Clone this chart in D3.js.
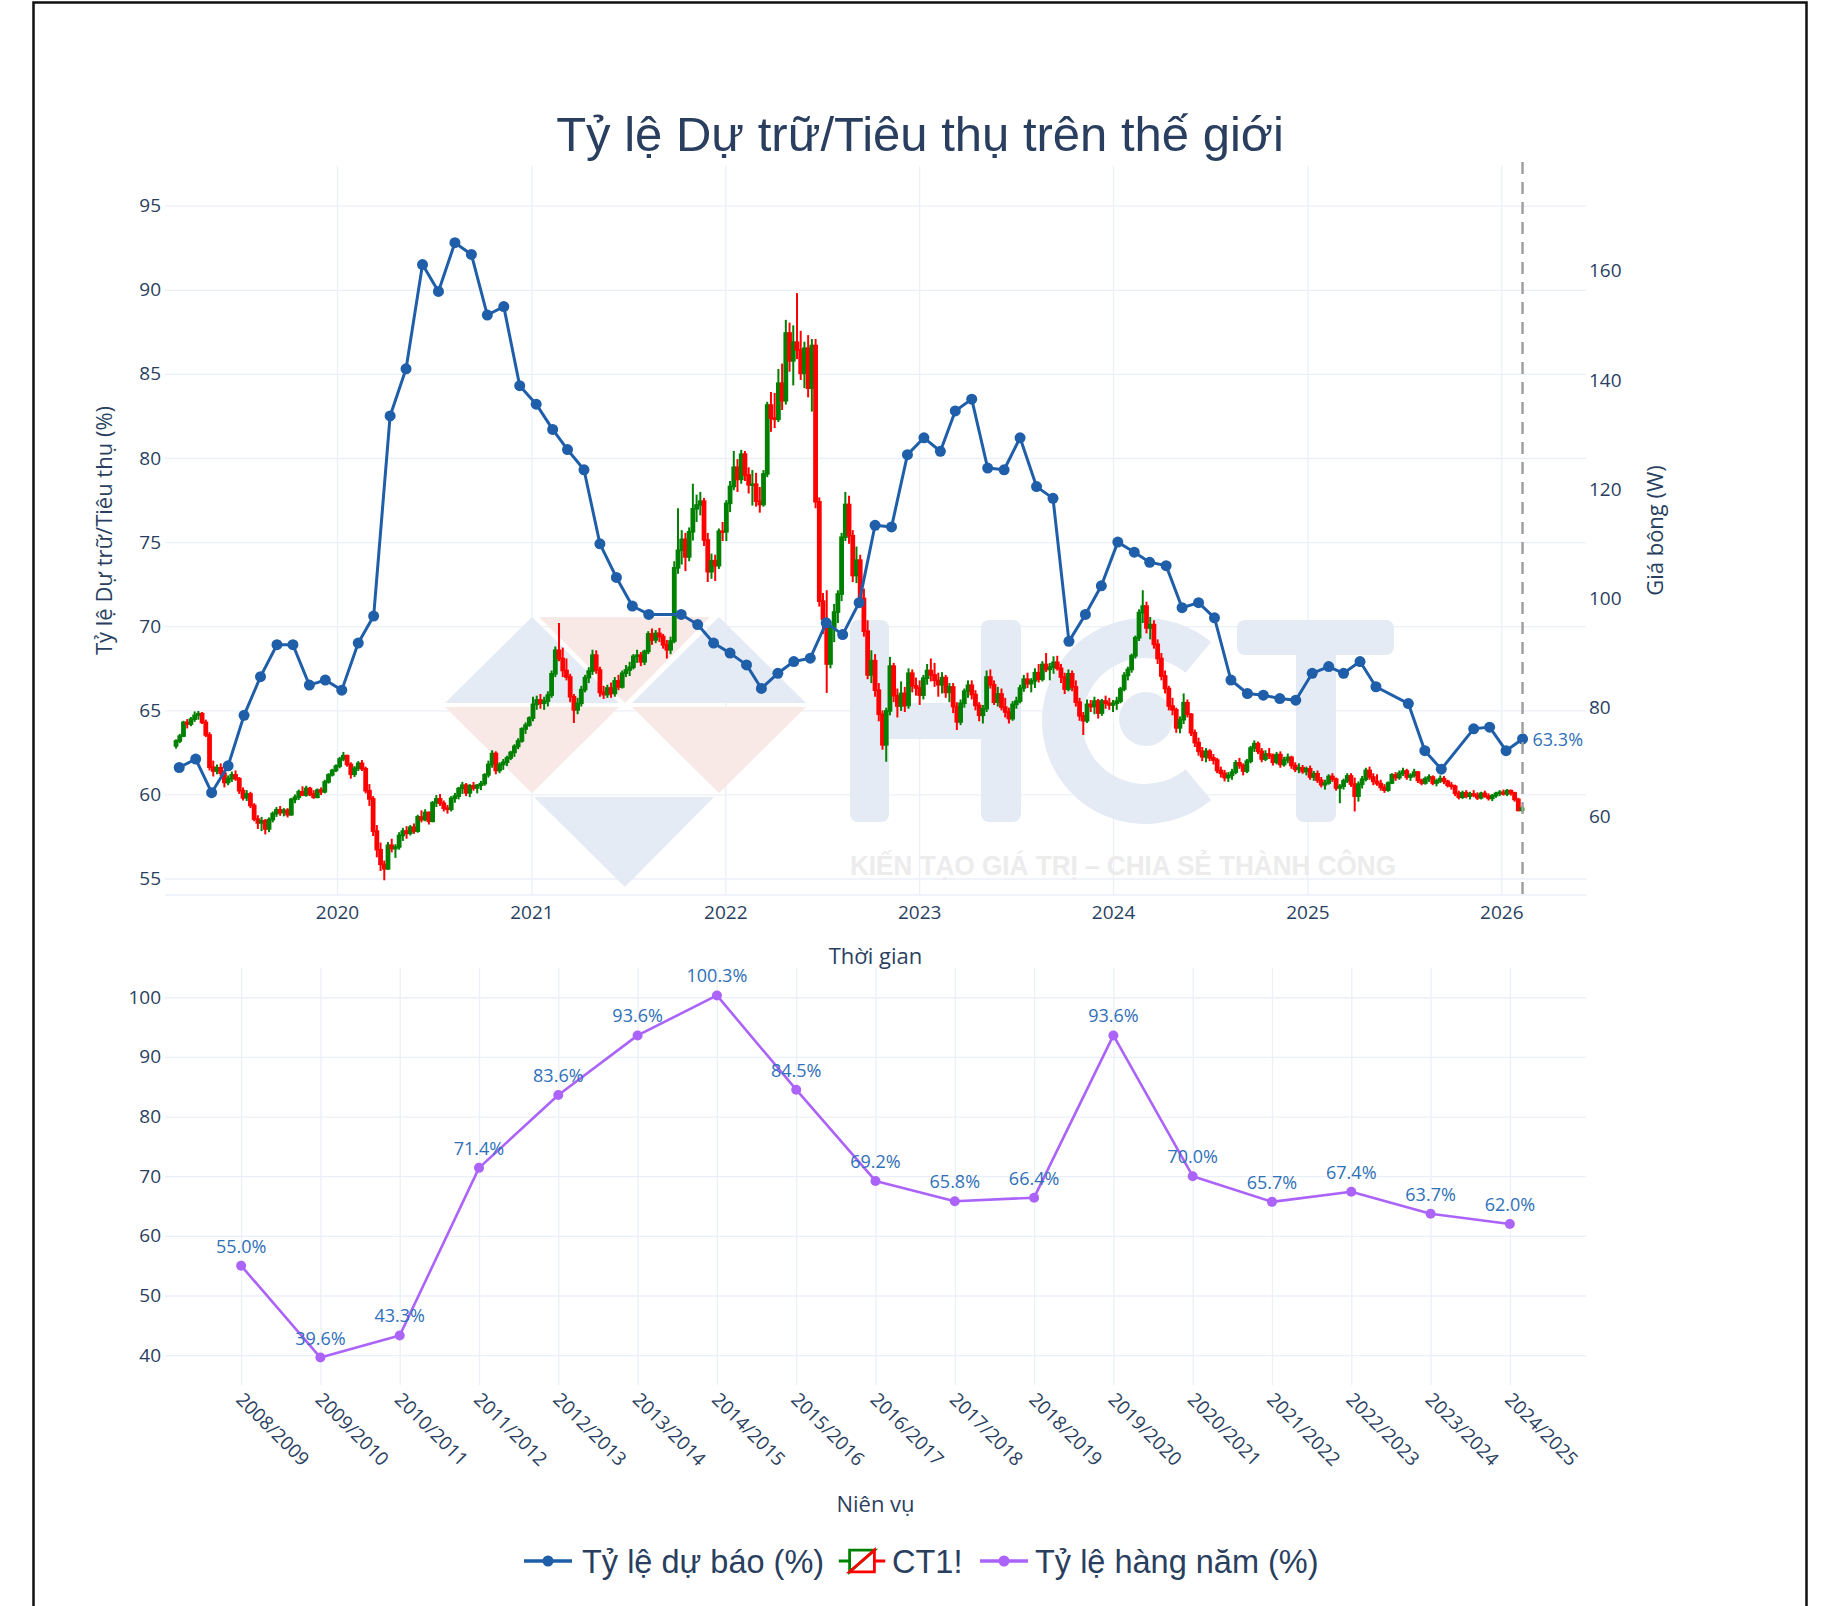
<!DOCTYPE html>
<html>
<head>
<meta charset="utf-8">
<script src="https://cdn.jsdelivr.net/npm/d3@7"></script>
<style>
    body { margin: 0; background: #fff; }
    svg text { font-family: "Open Sans", sans-serif; fill: #2a3f5f; }
    .axis text { font-size: 19px; fill: #2a3f5f; }
    .axis line { stroke: #ebf0f8; stroke-width: 1.3px; }
    .axis .domain { display: none; }
    .axis-title { font-size: 22px; }
    .title, .legend text { font-family: "Liberation Sans", Arial, sans-serif; }
</style>
</head>
<body>
<svg id="chart" width="1822" height="1606"></svg>
<script>
// ---- forecast stocks/use ratio (monthly, %) ----
const forecastMonths = [
    "2019-03", "2019-04", "2019-05", "2019-06", "2019-07", "2019-08", "2019-09", "2019-10", "2019-11", "2019-12",
    "2020-01", "2020-02", "2020-03", "2020-04", "2020-05", "2020-06", "2020-07", "2020-08", "2020-09", "2020-10", "2020-11", "2020-12",
    "2021-01", "2021-02", "2021-03", "2021-04", "2021-05", "2021-06", "2021-07", "2021-08", "2021-10", "2021-11", "2021-12",
    "2022-01", "2022-02", "2022-03", "2022-04", "2022-05", "2022-06", "2022-07", "2022-08", "2022-09", "2022-10", "2022-11", "2022-12",
    "2023-01", "2023-02", "2023-03", "2023-04", "2023-05", "2023-06", "2023-07", "2023-08", "2023-09", "2023-10", "2023-11", "2023-12",
    "2024-01", "2024-02", "2024-03", "2024-04", "2024-05", "2024-06", "2024-07", "2024-08", "2024-09", "2024-10", "2024-11", "2024-12",
    "2025-01", "2025-02", "2025-03", "2025-04", "2025-05", "2025-07", "2025-08", "2025-09", "2025-11", "2025-12",
    "2026-01", "2026-02"
];
const forecastValues = [
    61.6, 62.1, 60.1, 61.7, 64.7, 67.0, 68.9, 68.9, 66.5, 66.8,
    66.2, 69.0, 70.6, 82.5, 85.3, 91.5, 89.9, 92.8, 92.1, 88.5, 89.0, 84.3,
    83.2, 81.7, 80.5, 79.3, 74.9, 72.9, 71.2, 70.7, 70.7, 70.1, 69.0,
    68.4, 67.7, 66.3, 67.2, 67.9, 68.1, 70.2, 69.5, 71.4, 76.0, 75.9, 80.2,
    81.2, 80.4, 82.8, 83.5, 79.4, 79.3, 81.2, 78.3, 77.6, 69.1, 70.7, 72.4,
    75.0, 74.4, 73.8, 73.6, 71.1, 71.4, 70.5, 66.8, 66.0, 65.9, 65.7, 65.6,
    67.2, 67.6, 67.2, 67.9, 66.4, 65.4, 62.6, 61.5, 63.9, 64.0,
    62.6, 63.3
];

// ---- CT1! weekly candles [open, high, low, close], weeks from 2019-03-04 ----
const ohlc2019 = [
    [73.0,74.2,72.5,73.9],[73.9,75.2,73.5,74.8],[74.8,77.6,74.6,77.3],[77.3,77.9,76.2,77.0],[77.0,78.3,76.6,77.9],[77.9,79.3,77.4,78.6],[78.6,79.4,77.8,78.9],[78.9,79.2,77.0,77.3],[77.3,77.8,74.6,75.0],[75.0,75.5,68.5,69.1],
    [69.1,70.3,67.4,68.4],[68.4,69.6,67.8,69.0],[69.0,69.8,67.5,68.0],[68.0,68.6,65.4,66.3],[66.3,67.6,65.8,67.0],[67.0,68.3,66.4,67.7],[67.7,68.5,66.6,67.0],[67.0,67.3,64.2,64.8],[64.8,65.4,63.0,63.5],[63.5,64.9,62.9,64.2],
    [64.2,64.6,61.6,62.1],[62.1,62.5,59.2,59.6],[59.6,60.3,57.8,58.9],[58.9,60.0,57.4,59.3],[59.3,59.6,56.8,57.8],[57.8,59.9,57.2,59.5],[59.5,61.0,59.0,60.6],[60.6,61.8,60.0,61.3],[61.3,62.0,60.2,60.8],[60.8,61.6,60.1,61.2],
    [61.2,61.6,59.9,60.4],[60.4,63.5,60.2,63.2],[63.2,64.1,62.5,63.6],[63.6,65.0,63.1,64.6],[64.6,65.6,63.8,64.0],[64.0,65.7,63.7,65.2],[65.2,65.5,63.8,64.2],[64.2,64.9,63.3,63.6],[63.6,65.2,63.4,64.9],[64.9,65.4,64.0,64.6],
    [64.6,66.8,64.3,66.4],[66.4,68.0,66.1,67.7],[67.7,68.8,67.4,68.5],[68.5,69.6,68.2,69.3]
];
const ohlc2020 = [
    [69.3,71.0,68.9,70.6],[70.6,71.9,70.2,71.2],[71.2,71.4,69.2,69.6],[69.6,70.0,67.0,67.8],[67.8,69.3,67.3,68.9],[68.9,70.2,68.4,69.8],[69.8,70.4,68.4,68.8],[68.8,69.2,64.3,64.8],[64.8,66.0,62.0,63.3],[63.3,63.8,56.5,57.4],
    [57.4,58.5,52.6,54.0],[54.0,55.3,50.1,51.3],[51.3,52.0,48.4,50.5],[50.5,55.4,50.3,54.8],[54.8,56.0,53.5,54.2],[54.2,55.0,52.5,54.5],[54.5,57.2,54.0,56.6],[56.6,58.0,55.6,57.4],[57.4,58.3,56.0,57.0],[57.0,58.5,56.6,58.1],
    [58.1,58.8,56.9,57.4],[57.4,60.4,57.1,60.0],[60.0,61.2,59.0,59.5],[59.5,61.4,59.2,60.8],[60.8,61.0,58.6,59.2],[59.2,62.9,59.0,62.6],[62.6,64.0,61.8,63.3],[63.3,64.2,62.0,62.5],[62.5,63.0,61.0,61.6],[61.6,62.2,60.6,61.4],
    [61.4,63.8,61.0,63.4],[63.4,64.4,62.6,63.8],[63.8,65.5,63.2,65.2],[65.2,66.4,64.2,65.8],[65.8,66.2,63.8,64.4],[64.4,66.0,63.6,65.7],[65.7,66.4,64.8,65.3],[65.3,66.0,64.3,65.8],[65.8,66.6,64.9,66.1],[66.1,68.0,65.7,67.7],
    [67.7,70.3,67.2,69.6],[69.6,72.2,69.0,71.6],[71.6,72.0,67.8,68.5],[68.5,70.0,68.0,69.6],[69.6,70.6,68.6,70.0],[70.0,71.2,69.3,70.8],[70.8,72.1,70.4,71.8],[71.8,73.3,71.0,72.9],[72.9,74.4,72.4,73.9],[73.9,76.4,73.6,76.1],
    [76.1,77.3,75.2,76.8],[76.8,78.4,76.5,78.1]
];
const ohlc2021 = [
    [78.1,82.0,77.5,80.6],[80.6,82.2,79.6,81.4],[81.4,82.5,79.8,80.8],[80.8,82.0,79.6,81.2],[81.2,83.0,80.2,82.3],[82.3,86.8,81.8,86.2],[86.2,91.2,85.6,90.5],[90.5,95.5,88.5,89.0],[89.0,91.0,85.6,86.8],[86.8,89.0,85.0,85.6],
    [85.6,86.2,81.0,82.0],[82.0,82.5,77.2,79.6],[79.6,81.8,78.8,80.8],[80.8,84.0,80.2,83.3],[83.3,86.0,82.8,85.5],[85.5,87.4,84.5,86.7],[86.7,90.6,86.0,89.6],[89.6,90.5,86.2,86.9],[86.9,87.5,82.0,82.8],[82.8,84.0,81.6,82.4],
    [82.4,84.2,81.8,83.6],[83.6,84.6,81.8,82.6],[82.6,85.6,82.0,84.9],[84.9,86.0,83.2,83.8],[83.8,86.8,83.5,86.3],[86.3,87.8,85.6,86.9],[86.9,88.4,85.8,87.4],[87.4,89.8,87.0,89.4],[89.4,90.6,88.2,89.6],[89.6,90.2,87.6,88.4],
    [88.4,90.6,87.8,90.3],[90.3,94.0,89.8,93.5],[93.5,94.5,91.5,92.4],[92.4,94.2,91.8,93.6],[93.6,94.6,92.0,93.0],[93.0,93.5,90.8,91.5],[91.5,92.4,89.0,90.6],[90.6,93.0,89.8,92.2],[92.2,106.8,91.8,105.6],[105.6,116.5,104.5,108.8],
    [108.8,112.5,106.2,110.8],[110.8,112.0,105.0,107.6],[107.6,113.0,106.8,112.2],[112.2,121.0,110.6,116.4],[116.4,119.0,114.0,117.1],[117.1,119.5,115.2,117.8],[117.8,118.4,109.6,110.7],[110.7,112.0,103.0,104.9],[104.9,108.2,103.6,106.9],[106.9,108.0,103.2,106.0],
    [106.0,112.8,105.4,112.3],[112.3,114.0,110.5,112.2]
];
const ohlc2022 = [
    [112.2,118.0,110.5,117.4],[117.4,121.5,115.8,120.5],[120.5,127.0,119.8,124.0],[124.0,125.5,119.5,121.8],[121.8,127.2,121.0,126.4],[126.4,127.0,121.5,122.6],[122.6,124.0,119.2,120.8],[120.8,123.5,117.0,120.9],[120.9,123.0,116.8,117.8],[117.8,120.4,115.7,117.2],
    [117.2,123.5,116.8,122.8],[122.8,136.0,122.2,135.4],[135.4,137.8,130.5,133.0],[133.0,137.6,131.2,132.8],[132.8,142.0,132.3,139.4],[139.4,143.0,134.5,136.2],[136.2,151.0,135.5,148.6],[148.6,150.5,141.5,143.5],[143.5,150.0,139.0,146.9],[146.9,155.9,143.8,145.5],
    [145.5,149.0,140.0,141.2],[141.2,147.0,138.5,145.8],[145.8,148.2,136.8,138.5],[138.5,147.5,134.2,146.3],[146.3,147.5,116.5,117.7],[117.7,118.5,98.5,99.5],[99.5,101.0,93.5,96.2],[96.2,101.5,82.7,88.0],[88.0,95.8,87.2,94.6],[94.6,99.0,92.0,97.5],
    [97.5,101.5,95.5,100.8],[100.8,112.0,99.5,111.2],[111.2,119.5,110.5,117.2],[117.2,118.8,110.0,111.5],[111.5,112.5,103.0,104.2],[104.2,109.5,102.8,107.0],[107.0,108.0,99.0,100.0],[100.0,101.8,93.0,94.0],[94.0,96.0,85.2,86.0],[86.0,90.5,84.5,88.6],
    [88.6,89.8,82.0,83.2],[83.2,84.5,77.5,78.8],[78.8,79.5,72.3,73.2],[73.2,80.0,70.1,79.4],[79.4,89.3,78.6,87.6],[87.6,88.2,81.0,82.2],[82.2,83.5,78.2,80.3],[80.3,84.8,79.4,82.6],[82.6,83.8,79.2,80.4],[80.4,87.2,79.8,86.3],
    [86.3,87.0,82.8,84.0],[84.0,85.5,82.2,83.6]
];
const ohlc2023 = [
    [83.6,85.0,80.5,82.3],[82.3,86.0,81.5,85.4],[85.4,88.0,84.2,86.8],[86.8,89.0,84.8,86.0],[86.0,88.2,83.8,85.0],[85.0,86.4,82.0,84.2],[84.2,86.5,82.6,85.5],[85.5,86.0,81.8,82.8],[82.8,84.5,81.0,83.8],[83.8,84.5,79.0,80.2],
    [80.2,81.0,75.9,77.4],[77.4,81.5,76.8,80.8],[80.8,83.5,80.0,83.0],[83.0,85.0,81.8,84.1],[84.1,85.0,81.5,82.4],[82.4,83.2,79.5,80.4],[80.4,81.0,77.5,78.6],[78.6,80.5,77.1,79.8],[79.8,86.8,79.2,85.6],[85.6,87.0,83.5,84.2],
    [84.2,85.0,80.5,81.0],[81.0,83.8,80.2,82.5],[82.5,83.5,79.5,80.1],[80.1,81.8,78.2,79.2],[79.2,80.0,77.1,78.0],[78.0,81.2,77.6,80.6],[80.6,82.0,79.8,81.2],[81.2,84.2,80.8,83.6],[83.6,86.0,82.9,85.2],[85.2,86.4,83.6,84.4],
    [84.4,85.4,82.8,84.9],[84.9,87.2,83.6,86.4],[86.4,88.0,84.6,85.2],[85.2,88.5,84.8,87.9],[87.9,90.0,86.5,87.0],[87.0,88.2,85.0,87.4],[87.4,89.4,86.2,88.3],[88.3,89.5,86.8,87.2],[87.2,88.0,84.5,85.6],[85.6,86.4,82.5,83.4],
    [83.4,87.0,83.0,86.2],[86.2,86.8,83.0,83.8],[83.8,85.0,80.2,81.0],[81.0,81.8,77.6,78.5],[78.5,79.2,75.0,77.6],[77.6,81.5,77.2,80.6],[80.6,81.4,79.2,80.2],[80.2,82.0,78.8,81.2],[81.2,81.6,78.0,79.0],[79.0,81.6,78.5,81.2],
    [81.2,82.2,79.8,80.8],[80.8,81.8,79.6,80.5]
];
const ohlc2024 = [
    [80.5,81.4,79.2,80.8],[80.8,82.0,79.6,81.2],[81.2,83.8,80.8,83.4],[83.4,86.5,83.0,85.9],[85.9,87.5,85.0,87.0],[87.0,89.9,86.4,89.5],[89.5,93.2,89.0,92.8],[92.8,98.0,92.2,97.4],[97.4,101.5,95.5,98.6],[98.6,99.4,93.6,94.6],
    [94.6,96.6,92.5,95.2],[95.2,96.0,90.8,91.6],[91.6,92.5,88.0,89.0],[89.0,90.0,85.0,85.8],[85.8,86.8,82.6,83.5],[83.5,84.0,79.5,80.3],[80.3,81.8,78.6,79.6],[79.6,80.0,75.4,76.3],[76.3,78.4,75.3,77.8],[77.8,82.6,77.0,80.9],
    [80.9,81.5,78.2,78.8],[78.8,79.0,74.8,75.4],[75.4,76.0,72.8,73.6],[73.6,74.5,71.2,72.0],[72.0,72.8,70.2,71.0],[71.0,72.6,70.0,72.0],[72.0,72.4,70.2,70.8],[70.8,71.5,69.6,70.4],[70.4,70.8,68.0,68.5],[68.5,69.2,67.2,68.0],
    [68.0,68.6,66.5,67.2],[67.2,68.2,66.4,67.6],[67.6,68.8,66.8,68.2],[68.2,70.4,67.8,69.9],[69.9,70.8,68.8,69.4],[69.4,69.8,67.6,68.4],[68.4,70.6,68.0,70.2],[70.2,73.0,69.8,72.6],[72.6,74.0,71.9,73.4],[73.4,73.8,71.5,72.0],
    [72.0,72.6,70.0,70.6],[70.6,72.2,70.2,71.5],[71.5,72.6,70.6,71.2],[71.2,71.6,69.4,70.0],[70.0,71.9,69.6,71.4],[71.4,72.0,69.0,69.6],[69.6,71.0,69.2,70.4],[70.4,71.6,69.8,70.9],[70.9,71.2,68.8,69.4],[69.4,70.0,68.2,68.7],
    [68.7,69.8,68.0,69.0],[69.0,69.5,67.9,68.3],[68.3,69.2,67.6,68.8]
];
const ohlc2025 = [
    [68.8,69.4,66.8,67.3],[67.3,68.4,66.6,67.9],[67.9,68.5,66.2,66.7],[66.7,67.3,65.4,65.9],[65.9,66.8,65.0,66.2],[66.2,67.8,65.9,67.4],[67.4,68.0,66.4,66.9],[66.9,67.2,64.8,65.3],[65.3,66.0,62.5,65.6],[65.6,67.0,65.0,66.6],
    [66.6,68.0,66.2,67.5],[67.5,68.0,65.5,66.0],[66.0,67.2,61.0,63.8],[63.8,66.5,62.8,66.0],[66.0,67.5,65.2,66.9],[66.9,69.0,66.5,68.5],[68.5,69.2,66.8,67.3],[67.3,68.0,65.8,66.5],[66.5,67.8,65.7,66.1],[66.1,66.8,64.8,65.4],
    [65.4,66.0,64.4,64.9],[64.9,66.5,64.6,66.2],[66.2,68.0,66.0,67.7],[67.7,68.2,66.6,67.2],[67.2,68.5,66.8,68.0],[68.0,69.0,67.5,68.4],[68.4,68.8,66.8,67.3],[67.3,68.0,66.6,67.6],[67.6,68.8,67.2,68.2],[68.2,68.4,66.2,66.7],
    [66.7,67.0,65.8,66.2],[66.2,67.4,65.9,67.0],[67.0,67.8,66.4,67.3],[67.3,67.6,65.8,66.2],[66.2,67.0,65.6,66.6],[66.6,67.6,66.2,67.0],[67.0,67.5,66.0,66.5],[66.5,66.8,65.4,65.8],[65.8,66.4,65.0,65.6],[65.6,65.9,63.8,64.3],
    [64.3,64.8,63.2,63.6],[63.6,64.8,63.3,64.4],[64.4,64.9,63.4,63.8],[63.8,64.6,63.2,64.2],[64.2,64.9,63.6,64.0],[64.0,64.5,63.1,63.5],[63.5,64.6,63.2,64.3],[64.3,64.8,63.5,63.8],[63.8,64.3,63.0,63.4],[63.4,64.2,62.9,63.9],
    [63.9,64.6,63.5,64.3],[64.3,64.9,63.8,64.5]
];
const ohlc2026 = [
    [64.5,65.0,63.9,64.2],[64.2,65.1,63.8,64.8],[64.8,65.0,63.9,64.4],[64.4,64.6,62.8,63.2],[63.2,63.5,61.0,61.2],[61.2,61.9,60.9,61.6]
];

// ---- yearly ratio by crop season ----
const seasons = ["2008/2009", "2009/2010", "2010/2011", "2011/2012", "2012/2013", "2013/2014", "2014/2015", "2015/2016", "2016/2017",
    "2017/2018", "2018/2019", "2019/2020", "2020/2021", "2021/2022", "2022/2023", "2023/2024", "2024/2025"];
const seasonValues = [55.0, 39.6, 43.3, 71.4, 83.6, 93.6, 100.3, 84.5, 69.2, 65.8, 66.4, 93.6, 70.0, 65.7, 67.4, 63.7, 62.0];

const leftTicks = [55, 60, 65, 70, 75, 80, 85, 90, 95];
const rightTicks = [60, 80, 100, 120, 140, 160];
const yearTicks = [2020, 2021, 2022, 2023, 2024, 2025, 2026];
const bottomTicks = [40, 50, 60, 70, 80, 90, 100];
const lastReport = "2026-02-10";

const BLUE = "#1f5ea8", PURPLE = "#ab63fa", LABEL = "#3070b8";
const UP = "#008000", DOWN = "#ff0000";

const svg = d3.select("#chart");
svg.append("rect").attr("width", 1822).attr("height", 1606).attr("fill", "#fff");

const L = 165, R = 1586;
const top1 = 166, bot1 = 895;
const top2 = 968, bot2 = 1385;

const parseDay = d3.utcParse("%Y-%m-%d");
const x = d3.scaleUtc().domain([parseDay("2020-01-01"), parseDay("2026-01-01")]).range([337, 1501.3]);
const yL = d3.scaleLinear().domain([54.02, 97.36]).range([bot1, top1]);
const yR = d3.scaleLinear().domain([45.7, 179.17]).range([bot1, top1]);

const xB = d3.scaleLinear().domain([-0.96, 16.96]).range([L, R]);
const yB = d3.scaleLinear().domain([35.0, 104.9]).range([bot2, top2]);

// title
svg.append("text").attr("class", "title")
    .attr("x", 920).attr("y", 151)
    .attr("text-anchor", "middle")
    .attr("font-size", 49)
    .text("Tỷ lệ Dự trữ/Tiêu thụ trên thế giới");

// ---------- top panel axes / grid ----------
svg.append("g").attr("class", "axis")
    .attr("transform", `translate(0,${bot1})`)
    .call(d3.axisBottom(x)
        .tickValues(yearTicks.map(y => parseDay(y + "-01-01")))
        .tickFormat(d3.utcFormat("%Y"))
        .tickSize(-(bot1 - top1)).tickPadding(11));

svg.append("g").attr("class", "axis")
    .attr("transform", `translate(${L},0)`)
    .call(d3.axisLeft(yL).tickValues(leftTicks).tickSize(-(R - L)).tickPadding(4));

svg.append("g").attr("class", "axis")
    .attr("transform", `translate(${R},0)`)
    .call(d3.axisRight(yR).tickValues(rightTicks).tickSize(0).tickPadding(3));

svg.append("line").attr("x1", L).attr("x2", R).attr("y1", bot1).attr("y2", bot1)
    .attr("stroke", "#ebf0f8").attr("stroke-width", 1.5);

svg.append("text").attr("class", "axis-title")
    .attr("transform", `translate(103,${(top1 + bot1) / 2}) rotate(-90)`)
    .attr("text-anchor", "middle").attr("dominant-baseline", "central")
    .text("Tỷ lệ Dự trữ/Tiêu thụ (%)");
svg.append("text").attr("class", "axis-title")
    .attr("transform", `translate(1654,${(top1 + bot1) / 2}) rotate(-90)`)
    .attr("text-anchor", "middle").attr("dominant-baseline", "central")
    .text("Giá bông (W)");
svg.append("text").attr("class", "axis-title")
    .attr("x", (L + R) / 2).attr("y", 964).attr("text-anchor", "middle")
    .text("Thời gian");

// ---------- watermark ----------
const wm = svg.append("g").attr("class", "watermark");
const wmBlue = "#e4ebf4", wmPink = "#f8e8e6";
const tri = [
    [[532, 617], [445, 703], [619, 703], wmBlue],
    [[539, 617], [710, 617], [625, 703], wmPink],
    [[719, 617], [632, 703], [806, 703], wmBlue],
    [[445, 707], [619, 707], [532, 793], wmPink],
    [[632, 707], [806, 707], [719, 793], wmPink],
    [[534, 797], [714, 797], [625, 887], wmBlue]
];
tri.forEach(t => wm.append("path")
    .attr("d", `M${t[0]}L${t[1]}L${t[2]}Z`).attr("fill", t[3]));
// H
wm.append("rect").attr("x", 850).attr("y", 620).attr("width", 39).attr("height", 202).attr("rx", 8).attr("fill", wmBlue);
wm.append("rect").attr("x", 981).attr("y", 620).attr("width", 40).attr("height", 202).attr("rx", 8).attr("fill", wmBlue);
wm.append("rect").attr("x", 885).attr("y", 703).attr("width", 100).attr("height", 36).attr("fill", wmBlue);
// C
wm.append("path")
    .attr("d", "M1211.2,642.1A103,103 0 1 0 1211.2,799.9L1185.5,769.3A63,63 0 1 1 1185.5,672.7Z")
    .attr("fill", wmBlue);
wm.append("circle").attr("cx", 1146).attr("cy", 719).attr("r", 27).attr("fill", wmBlue);
// T
wm.append("rect").attr("x", 1237).attr("y", 620).attr("width", 157).attr("height", 35).attr("rx", 8).attr("fill", wmBlue);
wm.append("rect").attr("x", 1296).attr("y", 620).attr("width", 40).attr("height", 202).attr("rx", 8).attr("fill", wmBlue);
wm.append("text")
    .attr("x", 850).attr("y", 875)
    .attr("textLength", 546).attr("lengthAdjust", "spacingAndGlyphs")
    .style("font-family", "'Liberation Sans', Arial, sans-serif")
    .style("font-weight", "bold").style("font-size", "28px").style("fill", "#ececec")
    .text("KIẾN TẠO GIÁ TRỊ – CHIA SẺ THÀNH CÔNG");

// ---------- candles ----------
svg.append("clipPath").attr("id", "clip1")
    .append("rect").attr("x", L).attr("y", top1).attr("width", R - L).attr("height", bot1 - top1);

const weeks = [].concat(ohlc2019, ohlc2020, ohlc2021, ohlc2022, ohlc2023, ohlc2024, ohlc2025, ohlc2026);
const firstWeek = parseDay("2019-03-04");
const candles = weeks.map((d, i) => ({
    date: d3.utcDay.offset(firstWeek, i * 7),
    o: d[0], h: d[1], l: d[2], c: d[3]
}));

const plot1 = svg.append("g").attr("clip-path", "url(#clip1)");
const cg = plot1.selectAll("g.candle").data(candles).join("g").attr("class", "candle")
    .attr("stroke", d => d.c >= d.o ? UP : DOWN)
    .attr("fill", d => d.c >= d.o ? UP : DOWN);
cg.append("line")
    .attr("x1", d => x(d.date)).attr("x2", d => x(d.date))
    .attr("y1", d => yR(d.h)).attr("y2", d => yR(d.l))
    .attr("stroke-width", 2);
cg.append("rect")
    .attr("x", d => x(d.date) - 1.6).attr("width", 3.2)
    .attr("y", d => yR(Math.max(d.o, d.c)))
    .attr("height", d => Math.max(0.8, Math.abs(yR(d.o) - yR(d.c))))
    .attr("stroke-width", 1.6);

// ---------- forecast line ----------
const forecast = forecastMonths.map((m, i) => ({ date: parseDay(m + "-10"), v: forecastValues[i] }));
plot1.append("path").datum(forecast)
    .attr("fill", "none").attr("stroke", BLUE).attr("stroke-width", 3)
    .attr("stroke-linejoin", "round")
    .attr("d", d3.line().x(d => x(d.date)).y(d => yL(d.v)));
plot1.selectAll("circle.fc").data(forecast).join("circle").attr("class", "fc")
    .attr("cx", d => x(d.date)).attr("cy", d => yL(d.v)).attr("r", 5.5).attr("fill", BLUE);

const last = forecast[forecast.length - 1];
svg.append("text")
    .attr("x", x(last.date) + 10).attr("y", yL(last.v))
    .attr("dominant-baseline", "central")
    .attr("font-size", 18).style("fill", LABEL)
    .text(last.v.toFixed(1) + "%");

// dashed marker of latest report
svg.append("line")
    .attr("x1", x(parseDay(lastReport))).attr("x2", x(parseDay(lastReport)))
    .attr("y1", top1 - 4).attr("y2", bot1)
    .attr("stroke", "#a0a0a0").attr("stroke-width", 2.5).attr("stroke-dasharray", "12,8");

// ---------- bottom panel ----------
const xAxisB = svg.append("g").attr("class", "axis")
    .attr("transform", `translate(0,${bot2})`)
    .call(d3.axisBottom(xB).tickValues(d3.range(seasons.length))
        .tickFormat(i => seasons[i]).tickSize(-(bot2 - top2)));
xAxisB.selectAll("text")
    .attr("x", 0).attr("y", 0).attr("dy", "0.35em")
    .attr("text-anchor", "start")
    .attr("transform", "translate(-2,11) rotate(45)");

svg.append("g").attr("class", "axis")
    .attr("transform", `translate(${L},0)`)
    .call(d3.axisLeft(yB).tickValues(bottomTicks).tickSize(-(R - L)).tickPadding(4));

svg.append("text").attr("class", "axis-title")
    .attr("x", (L + R) / 2).attr("y", 1512).attr("text-anchor", "middle")
    .text("Niên vụ");

const yearly = seasonValues.map((v, i) => ({ i, v }));
svg.append("path").datum(yearly)
    .attr("fill", "none").attr("stroke", PURPLE).attr("stroke-width", 2.6)
    .attr("stroke-linejoin", "round")
    .attr("d", d3.line().x(d => xB(d.i)).y(d => yB(d.v)));
svg.selectAll("circle.yr").data(yearly).join("circle").attr("class", "yr")
    .attr("cx", d => xB(d.i)).attr("cy", d => yB(d.v)).attr("r", 5).attr("fill", PURPLE);
svg.selectAll("text.yr").data(yearly).join("text").attr("class", "yr")
    .attr("x", d => xB(d.i)).attr("y", d => yB(d.v) - 13)
    .attr("text-anchor", "middle").attr("font-size", 18).style("fill", LABEL)
    .text(d => d.v.toFixed(1) + "%");

// ---------- legend ----------
const lg = svg.append("g").attr("class", "legend");
const ly = 1561, lfs = 32.5;
lg.append("line").attr("x1", 524).attr("x2", 572).attr("y1", ly).attr("y2", ly)
    .attr("stroke", BLUE).attr("stroke-width", 3.5);
lg.append("circle").attr("cx", 548).attr("cy", ly).attr("r", 5.5).attr("fill", BLUE);
lg.append("text").attr("x", 582).attr("y", ly + 12).attr("font-size", lfs).text("Tỷ lệ dự báo (%)");

const cx0 = 862, sx = 1.55, sy = 1.8;
const P = (a, b) => `${cx0 + a * sx},${ly + b * sy}`;
lg.append("path").attr("d", `M${P(-15, 0)}L${P(-8, 0)}M${P(-8, 6)}L${P(-8, -6)}L${P(8, -6)}Z`)
    .attr("fill", "none").attr("stroke", UP).attr("stroke-width", 2.8);
lg.append("path").attr("d", `M${P(15, 0)}L${P(8, 0)}M${P(8, -6)}L${P(8, 6)}L${P(-8, 6)}Z`)
    .attr("fill", "none").attr("stroke", DOWN).attr("stroke-width", 2.8);
lg.append("text").attr("x", 892).attr("y", ly + 12).attr("font-size", lfs).text("CT1!");

lg.append("line").attr("x1", 980).attr("x2", 1028).attr("y1", ly).attr("y2", ly)
    .attr("stroke", PURPLE).attr("stroke-width", 3.5);
lg.append("circle").attr("cx", 1004).attr("cy", ly).attr("r", 5.5).attr("fill", PURPLE);
lg.append("text").attr("x", 1035).attr("y", ly + 12).attr("font-size", lfs).text("Tỷ lệ hàng năm (%)");

// frame of the screenshot
svg.append("rect").attr("x", 33.5).attr("y", 2.5).attr("width", 1773).attr("height", 1660)
    .attr("fill", "none").attr("stroke", "#111").attr("stroke-width", 2.5);
</script>
</body>
</html>
